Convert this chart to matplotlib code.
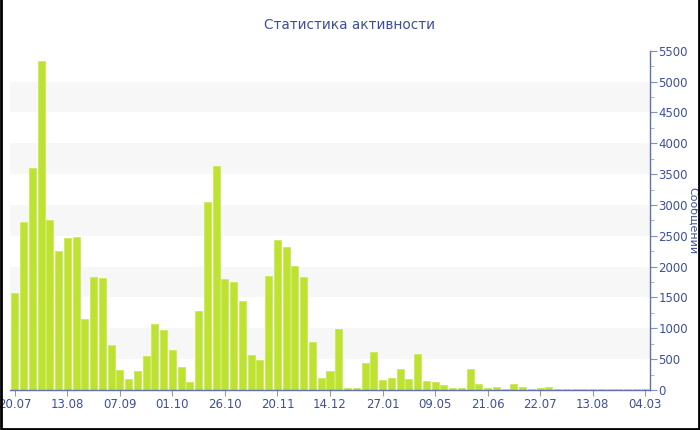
import numpy as np
import matplotlib
matplotlib.use('Agg')
from matplotlib import pyplot as plt
from matplotlib.ticker import MultipleLocator

# messages per period
values = [1580, 2730, 3600, 5330, 2750, 2260, 2460, 2475, 1145, 1825,
          1810, 725, 320, 180, 315, 545, 1065, 970, 645, 370,
          135, 1275, 3040, 3625, 1800, 1750, 1445, 560, 490, 1845,
          2430, 2310, 2005, 1830, 785, 195, 305, 990, 27, 30,
          430, 620, 165, 195, 345, 185, 580, 145, 130, 85,
          27, 32, 345, 105, 27, 43, 16, 105, 43, 16,
          32, 43, 22, 18, 15, 20, 18, 15, 18, 15,
          20, 22, 18]
tick_labels = ['20.07', '13.08', '07.09', '01.10', '26.10', '20.11', '14.12',
               '27.01', '09.05', '21.06', '22.07', '13.08', '04.03']

blue = '#3d4f9c'
x = np.arange(len(values))

fig = plt.figure(figsize=(7, 4.3), dpi=100)
ax = fig.add_axes([10/700, 40/430, 640/700, 339.3/430])

# alternating bands
for lo in range(500, 5500, 1000):
    ax.axhspan(lo, lo + 500, color='#f7f7f7', zorder=0, lw=0)

ax.bar(x, values, width=0.8, color='#bde232', edgecolor='#cce95a', linewidth=0.6, zorder=2)

ax.set_xlim(-0.57, len(values) - 1 + 0.57)
ax.set_ylim(0, 5500)
ax.yaxis.tick_right()
ax.yaxis.set_label_position('right')
ax.yaxis.set_major_locator(MultipleLocator(500))
ax.yaxis.set_minor_locator(MultipleLocator(250))
ax.set_xticks(x[::6])
ax.set_xticklabels(tick_labels)

for s in ['left', 'top']:
    ax.spines[s].set_visible(False)
for s in ['right', 'bottom']:
    ax.spines[s].set_color('#6070b0')
    ax.spines[s].set_linewidth(1.0)

ax.tick_params(axis='y', which='major', length=5, color='#8090c0', labelcolor=blue, labelsize=8.5, pad=1)
ax.tick_params(axis='y', which='minor', length=3, color='#a0a8cc')
ax.tick_params(axis='x', length=4, color='#999999', labelcolor=blue, labelsize=8.5, pad=2)

ax.set_ylabel('Сообщений', color=blue, fontsize=8, rotation=270, va='center')
ax.yaxis.set_label_coords((693 - 10) / 640, 0.5)
fig.text(349/700, 1 - 25/430, 'Статистика активности', color=blue, fontsize=9.8,
         ha='center', va='center')

# figure frame (left, bottom, right)
fig.add_artist(plt.Line2D([0.001, 0.001, 0.999, 0.999], [1, 0.002, 0.002, 1],
                          transform=fig.transFigure, color='black', linewidth=2))

fig.savefig('out.png', dpi=100)
